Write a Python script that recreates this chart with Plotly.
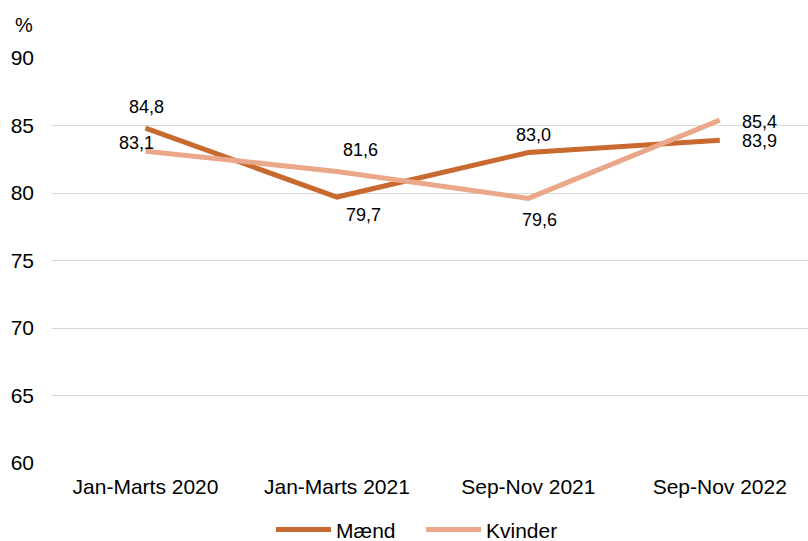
import plotly.graph_objects as go

categories = ["Jan-Marts 2020", "Jan-Marts 2021", "Sep-Nov 2021", "Sep-Nov 2022"]
maend = [84.8, 79.7, 83.0, 83.9]
kvinder = [83.1, 81.6, 79.6, 85.4]
y_ticks = [60, 65, 70, 75, 80, 85, 90]

# label offsets (px) relative to each data point
maend_off = [(1, 21), (27, -18), (5, 17.5), (40, -1)]
kvinder_off = [(-9, 8), (23.5, 21.5), (11, -21.5), (40, -1.5)]

C_M = "#C8692F"
C_K = "#EAA78A"
FONT = "Liberation Sans, Arial, sans-serif"

xs = list(range(len(categories)))

fig = go.Figure()
fig.add_trace(go.Scatter(x=xs, y=maend, name="Mænd", mode="lines",
                         line=dict(color=C_M, width=5)))
fig.add_trace(go.Scatter(x=xs, y=kvinder, name="Kvinder", mode="lines",
                         line=dict(color=C_K, width=5)))

def fmt(v):
    return f"{v:.1f}".replace(".", ",")

for vals, offs in ((maend, maend_off), (kvinder, kvinder_off)):
    for i, (v, (dx, dy)) in enumerate(zip(vals, offs)):
        fig.add_annotation(x=xs[i], y=v, xref="x", yref="y", text=fmt(v),
                           showarrow=False, xshift=dx, yshift=dy,
                           font=dict(family=FONT, size=18, color="#000000"))

fig.add_annotation(x=-(52 - 13) / 756, y=1 + (58 - 25) / 405.3,
                   xref="paper", yref="paper", text="%",
                   showarrow=False, xanchor="left", yanchor="middle",
                   font=dict(family=FONT, size=20, color="#000000"))

fig.update_layout(
    width=808, height=541,
    margin=dict(l=52, r=0, t=58, b=78, autoexpand=False),
    paper_bgcolor="white", plot_bgcolor="white",
    font=dict(family=FONT, size=21, color="#000000"),
    showlegend=True,
    legend=dict(orientation="h", x=(277 - 52 - 6) / 756, xanchor="left",
                y=-0.165, yanchor="middle",
                font=dict(family=FONT, size=21, color="#000000"),
                itemwidth=55, entrywidth=80, entrywidthmode="pixels",
                traceorder="normal"),
)
fig.update_xaxes(range=[-0.4885, 3.461], tickvals=xs, ticktext=categories,
                 showgrid=False, zeroline=False, showline=False, ticks="",
                 automargin=False, ticklabelstandoff=9,
                 tickfont=dict(family=FONT, size=21, color="#000000"))
fig.update_yaxes(range=[60, 90], tickvals=y_ticks, showgrid=True,
                 gridcolor="#D9D9D9", gridwidth=1, zeroline=False, showline=False,
                 ticks="", ticklabelstandoff=17, automargin=False,
                 tickfont=dict(family=FONT, size=21, color="#000000"))

fig.write_html("out.html", config={"displayModeBar": False},
               post_script="document.body.style.margin='0';document.body.style.overflow='hidden';")
